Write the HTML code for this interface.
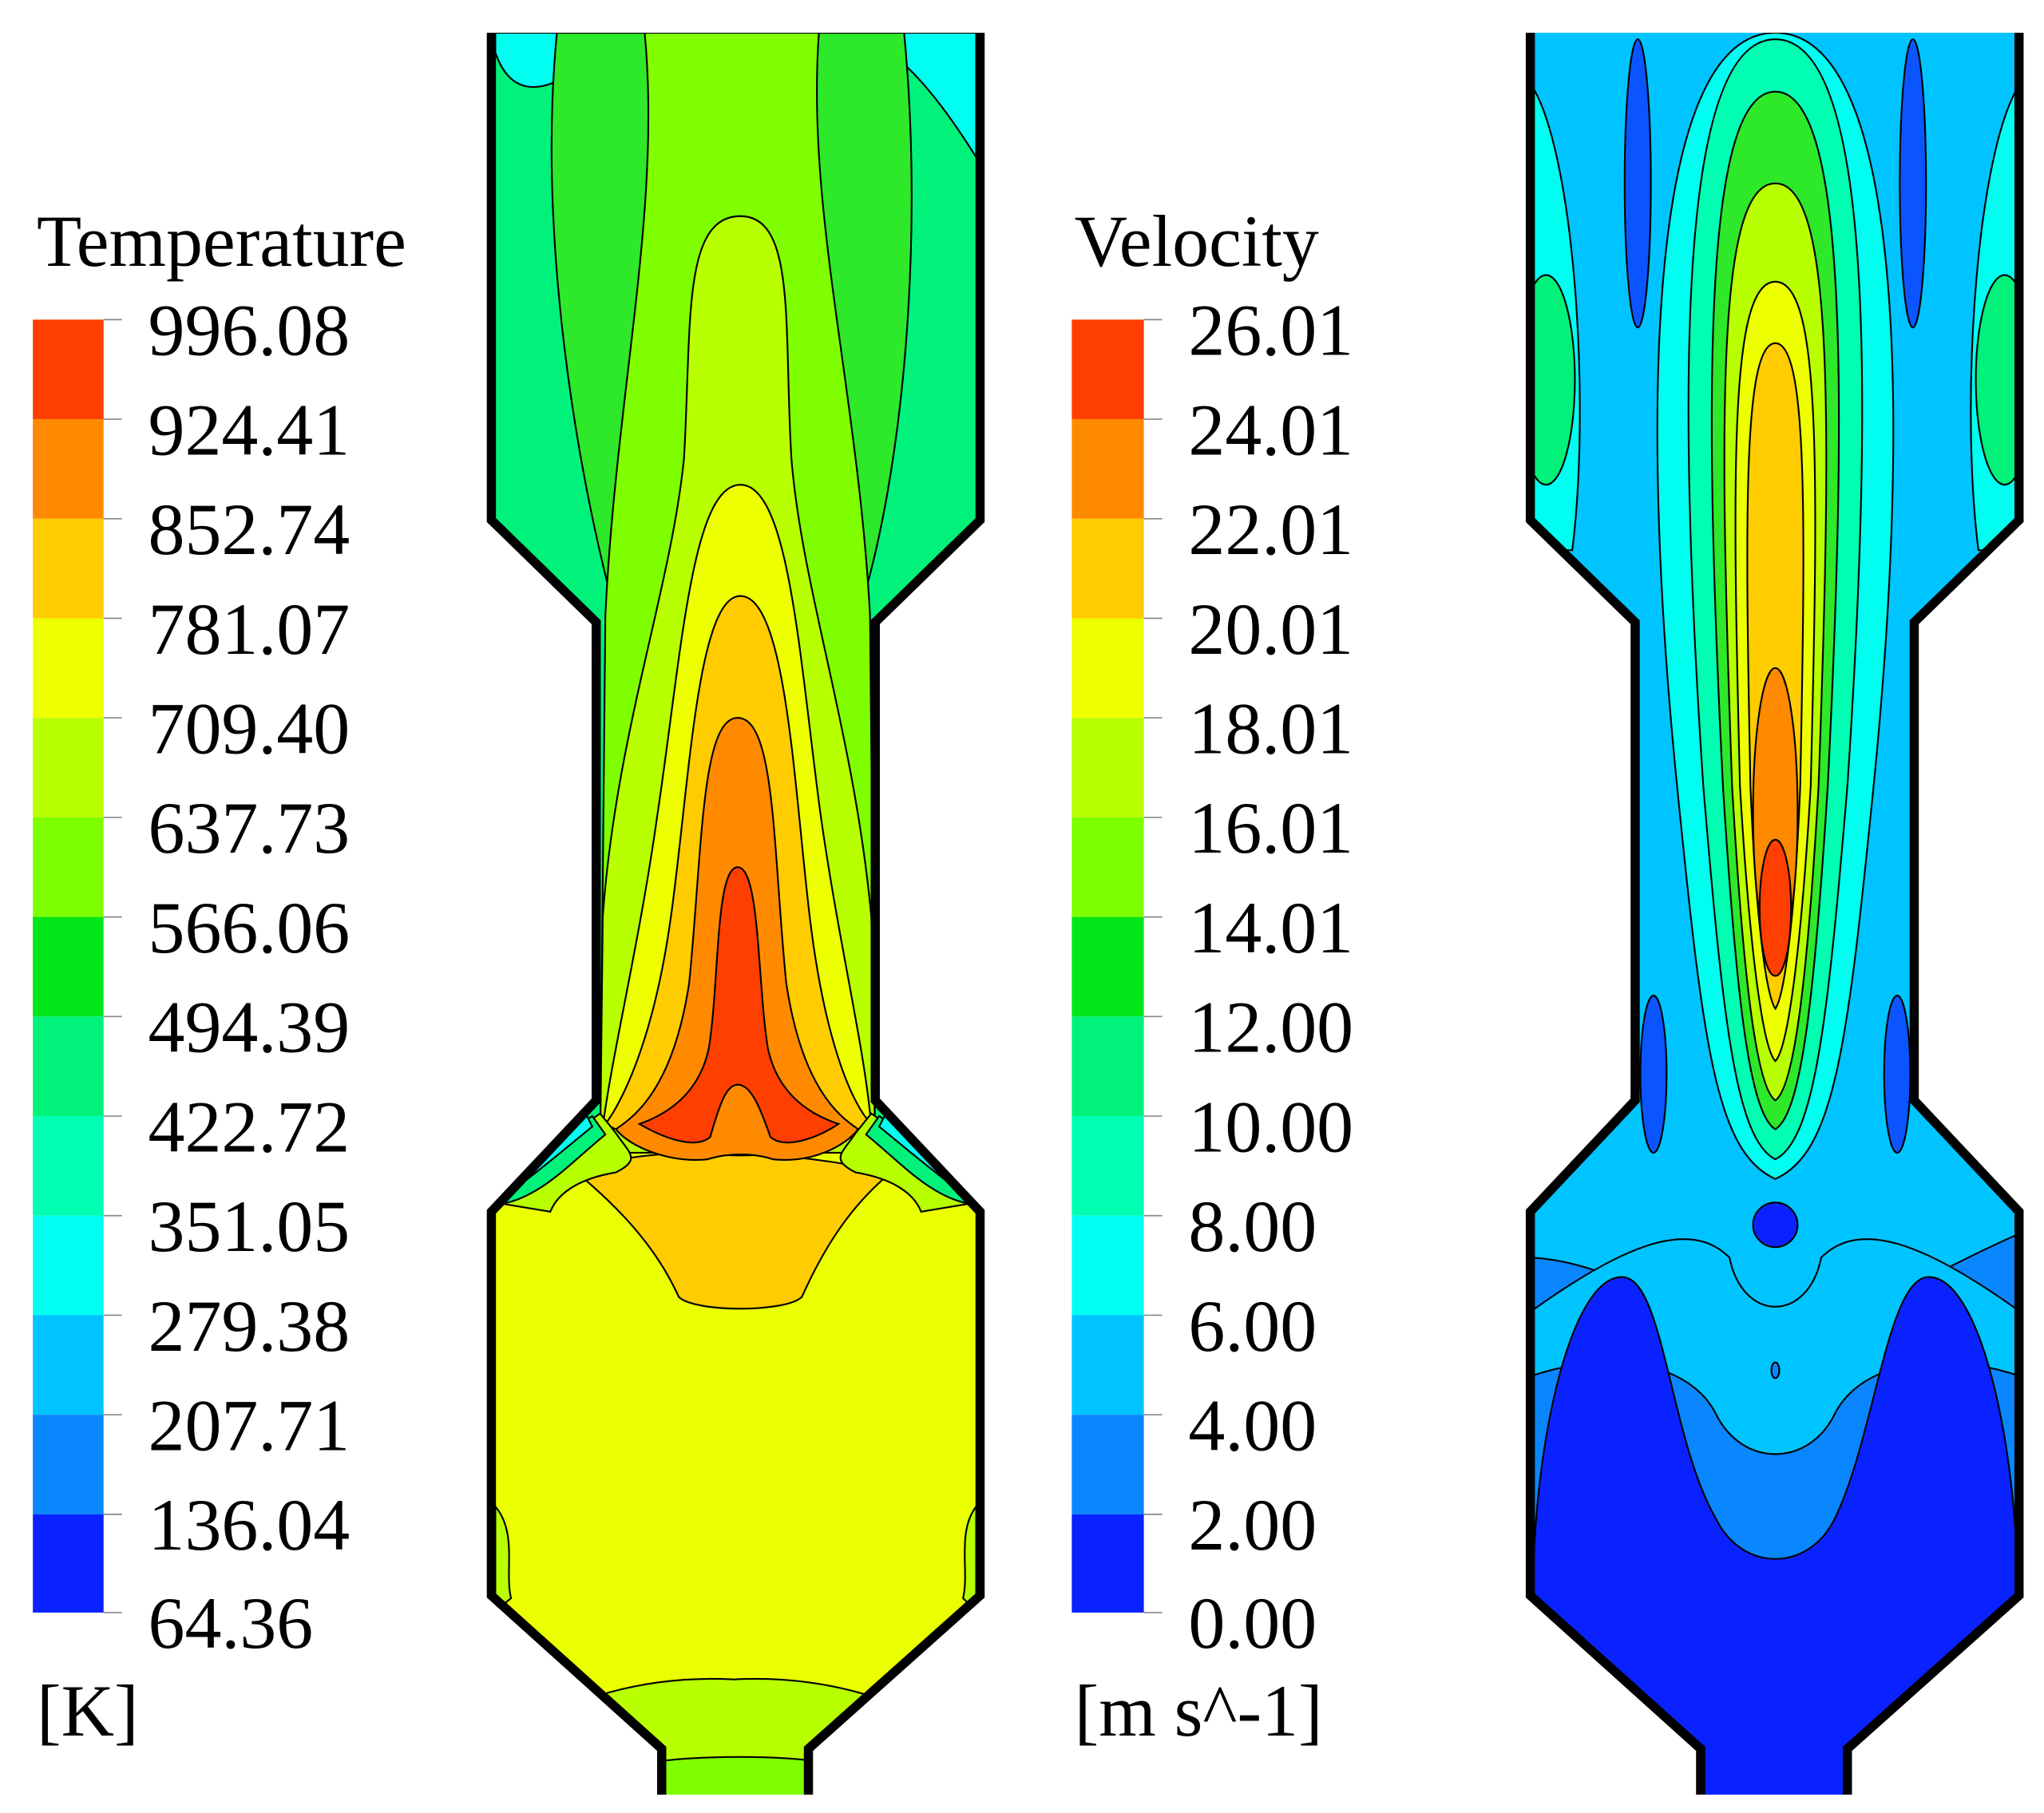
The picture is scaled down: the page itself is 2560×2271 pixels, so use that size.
<!DOCTYPE html>
<html><head><meta charset="utf-8"><style>html,body{margin:0;padding:0;background:#fff}svg{display:block}</style></head>
<body>
<svg width="2560" height="2271" viewBox="0 0 1560 1384" xmlns="http://www.w3.org/2000/svg" font-family="Liberation Serif, serif">
<defs>
<clipPath id="dT"><path d="M378,25 L745,25 L745,397 L668,475 L668,840 L745,925 L745,1218 L617,1335 L617,1370 L505,1370 L505,1335 L378,1218 L378,925 L455,840 L455,475 L378,397 Z"/></clipPath>
<clipPath id="dV"><path d="M1171,25 L1538,25 L1538,397 L1461,475 L1461,840 L1538,925 L1538,1218 L1410,1335 L1410,1370 L1298,1370 L1298,1335 L1171,1218 L1171,925 L1248,840 L1248,475 L1171,397 Z"/></clipPath>
</defs>
<rect width="1560" height="1384" fill="#fff"/>

<text x="28" y="203" font-size="56">Temperature</text>
<g>
<rect x="25" y="244" width="54" height="76" fill="#ff3f00"/>
<rect x="25" y="320" width="54" height="76" fill="#ff8a00"/>
<rect x="25" y="396" width="54" height="76" fill="#ffcc00"/>
<rect x="25" y="472" width="54" height="76" fill="#eeff00"/>
<rect x="25" y="548" width="54" height="76" fill="#b8ff00"/>
<rect x="25" y="624" width="54" height="76" fill="#7dff00"/>
<rect x="25" y="700" width="54" height="76" fill="#00e619"/>
<rect x="25" y="776" width="54" height="76" fill="#00f27a"/>
<rect x="25" y="852" width="54" height="76" fill="#00ffb2"/>
<rect x="25" y="928" width="54" height="76" fill="#00fff0"/>
<rect x="25" y="1004" width="54" height="76" fill="#00c4ff"/>
<rect x="25" y="1080" width="54" height="76" fill="#0a86ff"/>
<rect x="25" y="1156" width="54" height="75" fill="#0a22ff"/>
</g>
<g stroke="#888" stroke-width="1">
<line x1="79" y1="244" x2="93" y2="244"/><line x1="79" y1="320" x2="93" y2="320"/><line x1="79" y1="396" x2="93" y2="396"/><line x1="79" y1="472" x2="93" y2="472"/><line x1="79" y1="548" x2="93" y2="548"/><line x1="79" y1="624" x2="93" y2="624"/><line x1="79" y1="700" x2="93" y2="700"/><line x1="79" y1="776" x2="93" y2="776"/><line x1="79" y1="852" x2="93" y2="852"/><line x1="79" y1="928" x2="93" y2="928"/><line x1="79" y1="1004" x2="93" y2="1004"/><line x1="79" y1="1080" x2="93" y2="1080"/><line x1="79" y1="1156" x2="93" y2="1156"/><line x1="79" y1="1231" x2="93" y2="1231"/>
<line x1="873" y1="244" x2="887" y2="244"/><line x1="873" y1="320" x2="887" y2="320"/><line x1="873" y1="396" x2="887" y2="396"/><line x1="873" y1="472" x2="887" y2="472"/><line x1="873" y1="548" x2="887" y2="548"/><line x1="873" y1="624" x2="887" y2="624"/><line x1="873" y1="700" x2="887" y2="700"/><line x1="873" y1="776" x2="887" y2="776"/><line x1="873" y1="852" x2="887" y2="852"/><line x1="873" y1="928" x2="887" y2="928"/><line x1="873" y1="1004" x2="887" y2="1004"/><line x1="873" y1="1080" x2="887" y2="1080"/><line x1="873" y1="1156" x2="887" y2="1156"/><line x1="873" y1="1231" x2="887" y2="1231"/>
</g>
<g font-size="56">
<text x="113" y="271">996.08</text><text x="113" y="347">924.41</text><text x="113" y="423">852.74</text><text x="113" y="499">781.07</text><text x="113" y="575">709.40</text><text x="113" y="651">637.73</text><text x="113" y="727">566.06</text><text x="113" y="803">494.39</text><text x="113" y="879">422.72</text><text x="113" y="955">351.05</text><text x="113" y="1031">279.38</text><text x="113" y="1107">207.71</text><text x="113" y="1183">136.04</text><text x="113" y="1258">64.36</text>
<text x="28" y="1325">[K]</text>
<text x="820" y="203">Velocity</text>
<text x="907" y="271">26.01</text><text x="907" y="347">24.01</text><text x="907" y="423">22.01</text><text x="907" y="499">20.01</text><text x="907" y="575">18.01</text><text x="907" y="651">16.01</text><text x="907" y="727">14.01</text><text x="907" y="803">12.00</text><text x="907" y="879">10.00</text><text x="907" y="955">8.00</text><text x="907" y="1031">6.00</text><text x="907" y="1107">4.00</text><text x="907" y="1183">2.00</text><text x="907" y="1258">0.00</text>
<text x="820" y="1325">[m s^-1]</text>
</g>
<g>
<rect x="818" y="244" width="55" height="76" fill="#ff3f00"/>
<rect x="818" y="320" width="55" height="76" fill="#ff8a00"/>
<rect x="818" y="396" width="55" height="76" fill="#ffcc00"/>
<rect x="818" y="472" width="55" height="76" fill="#eeff00"/>
<rect x="818" y="548" width="55" height="76" fill="#b8ff00"/>
<rect x="818" y="624" width="55" height="76" fill="#7dff00"/>
<rect x="818" y="700" width="55" height="76" fill="#00e619"/>
<rect x="818" y="776" width="55" height="76" fill="#00f27a"/>
<rect x="818" y="852" width="55" height="76" fill="#00ffb2"/>
<rect x="818" y="928" width="55" height="76" fill="#00fff0"/>
<rect x="818" y="1004" width="55" height="76" fill="#00c4ff"/>
<rect x="818" y="1080" width="55" height="76" fill="#0a86ff"/>
<rect x="818" y="1156" width="55" height="75" fill="#0a22ff"/>
</g>

<g clip-path="url(#dT)" stroke="#000" stroke-width="1.3">
<rect x="370" y="20" width="390" height="1360" fill="#eaff00" stroke="none"/>
<rect x="370" y="20" width="390" height="860" fill="#00f27a" stroke="none"/>
<path d="M378,40 C395,90 440,60 468,25 L378,25Z" fill="#00fff0"/>
<path d="M745,120 C720,80 690,40 655,25 L745,25Z" fill="#00fff0"/>
<path d="M425,25 C410,180 440,360 470,470 L470,880 L655,880 L655,470 C690,360 705,180 690,25 Z" fill="#2ee82a"/>
<path d="M492,25 C505,160 470,300 462,470 L458,880 L668,880 L664,470 C655,300 615,160 625,25 Z" fill="#80ff00"/>
<path d="M565,165 C520,165 528,250 522,350 C512,450 470,560 460,700 L458,880 L668,880 L665,700 C652,560 612,450 604,350 C598,250 608,165 565,165 Z" fill="#b8ff00"/>
<path d="M565,370 C528,370 520,500 502,620 C488,720 468,800 460,860 L665,860 C660,800 640,720 626,620 C610,500 602,370 565,370Z" fill="#eeff00"/>
<path d="M440,895 C470,880 560,870 680,895 C650,920 630,950 612,990 C600,1002 530,1002 518,990 C500,950 470,920 440,895Z" fill="#ffcc00"/>
<path d="M565,455 C532,455 526,600 512,700 C498,800 472,845 462,858 C520,890 610,890 665,858 C652,845 630,800 618,700 C606,600 600,455 565,455Z" fill="#ffcc00"/>
<path d="M563,548 C535,548 536,650 526,750 C514,830 485,852 470,862 C480,875 510,888 540,885 C555,880 575,880 590,885 C620,888 645,875 655,862 C640,852 612,830 600,750 C590,650 592,548 563,548Z" fill="#ff8a00"/>
<path d="M563,662 C546,662 549,750 541,800 C533,838 505,852 488,858 C505,868 530,878 542,868 C550,840 555,828 563,828 C573,828 580,845 588,868 C600,878 625,868 640,858 C622,852 594,838 586,800 C578,750 580,662 563,662Z" fill="#ff3f00"/>
<path d="M378,918 C400,895 430,870 458,850 L470,865 C480,880 490,885 470,895 C440,900 425,912 420,925 Z" fill="#b8ff00"/>
<path d="M378,912 C398,892 425,870 452,852 L462,866 C445,880 430,895 415,905 C400,915 390,918 378,920Z" fill="#00f27a"/>
<path d="M378,905 C395,890 420,870 448,852 L452,860 C430,878 410,895 392,908Z" fill="#00fff0"/>
<path d="M745,918 C723,895 693,870 665,850 L653,865 C643,880 633,885 653,895 C683,900 698,912 703,925 Z" fill="#b8ff00"/>
<path d="M745,912 C725,892 698,870 671,852 L661,866 C678,880 693,895 708,905 C723,915 733,918 745,920Z" fill="#00f27a"/>
<path d="M745,905 C728,890 703,870 675,852 L671,860 C693,878 713,895 731,908Z" fill="#00fff0"/>
<path d="M378,1150 C395,1170 385,1200 390,1220 L378,1230Z" fill="#b8ff00"/>
<path d="M745,1150 C730,1170 740,1200 735,1220 L745,1230Z" fill="#b8ff00"/>
<path d="M440,1300 C480,1285 520,1280 560,1282 C600,1280 640,1285 680,1300 L680,1380 L440,1380Z" fill="#b8ff00"/>
<path d="M500,1345 C530,1340 600,1340 625,1345 L625,1380 L500,1380Z" fill="#80ff00"/>
</g>
<path d="M375,25 L375,397 L455,475 L455,840 L375,925 L375,1218 L505,1335 L505,1370 M748,25 L748,397 L668,475 L668,840 L748,925 L748,1218 L617,1335 L617,1370" fill="none" stroke="#000" stroke-width="7"/>

<g clip-path="url(#dV)" stroke="#000" stroke-width="1.3">
<rect x="1160" y="20" width="390" height="1360" fill="#0a86ff" stroke="none"/>
<path d="M1165,20 L1545,20 L1545,940 C1500,960 1440,990 1420,1010 C1390,1050 1330,1050 1300,1010 C1270,990 1210,960 1165,960Z" fill="#00c4ff"/>
<path d="M1165,60 C1200,100 1215,300 1200,420 L1165,420Z" fill="#00fff0"/>
<path d="M1545,60 C1510,100 1495,300 1510,420 L1545,420Z" fill="#00fff0"/>
<ellipse cx="1180" cy="290" rx="22" ry="80" fill="#00f27a"/>
<ellipse cx="1530" cy="290" rx="22" ry="80" fill="#00f27a"/>
<ellipse cx="1250" cy="140" rx="10" ry="110" fill="#0a55ff"/>
<ellipse cx="1460" cy="140" rx="10" ry="110" fill="#0a55ff"/>
<ellipse cx="1300" cy="600" rx="9" ry="100" fill="#0a55ff"/>
<ellipse cx="1410" cy="600" rx="9" ry="100" fill="#0a55ff"/>
<ellipse cx="1262" cy="820" rx="10" ry="60" fill="#0a55ff"/>
<ellipse cx="1448" cy="820" rx="10" ry="60" fill="#0a55ff"/>
<path d="M1355,25 C1260,25 1250,300 1280,600 C1300,800 1310,880 1355,900 C1400,880 1410,800 1430,600 C1460,300 1450,25 1355,25Z" fill="#00fff0"/>
<path d="M1355,30 C1280,30 1280,300 1300,600 C1315,780 1325,870 1355,885 C1385,870 1395,780 1410,600 C1430,300 1430,30 1355,30Z" fill="#00ffb2"/>
<path d="M1355,70 C1300,70 1300,300 1315,600 C1325,760 1335,850 1355,862 C1375,850 1385,760 1395,600 C1410,300 1410,70 1355,70Z" fill="#2ee82a"/>
<path d="M1355,140 C1310,140 1312,320 1322,600 C1330,740 1340,830 1355,840 C1370,830 1380,740 1388,600 C1398,320 1400,140 1355,140Z" fill="#b8ff00"/>
<path d="M1355,215 C1320,215 1322,360 1328,600 C1335,720 1345,800 1355,810 C1365,800 1375,720 1382,600 C1388,360 1390,215 1355,215Z" fill="#eeff00"/>
<path d="M1355,262 C1330,262 1332,400 1336,600 C1340,700 1348,760 1355,770 C1362,760 1370,700 1374,600 C1378,400 1380,262 1355,262Z" fill="#ffcc00"/>
<ellipse cx="1355" cy="620" rx="17" ry="110" fill="#ff8a00"/>
<ellipse cx="1355" cy="693" rx="12" ry="52" fill="#ff3f00"/>
<path d="M1170,1000 C1240,950 1290,930 1320,960 C1330,1010 1380,1010 1390,960 C1420,930 1470,950 1540,1000 L1540,1050 C1480,1030 1420,1040 1400,1080 C1380,1120 1330,1120 1310,1080 C1290,1040 1230,1030 1170,1050Z" fill="#00c4ff"/>
<path d="M1170,1220 C1170,1100 1200,970 1240,975 C1270,980 1275,1100 1310,1160 C1330,1200 1380,1200 1400,1160 C1430,1100 1440,980 1470,975 C1510,970 1540,1100 1540,1220 L1540,1384 L1170,1384Z" fill="#0a22ff"/>
<circle cx="1355" cy="935" r="17" fill="#0a22ff"/>
<ellipse cx="1355" cy="1046" rx="3" ry="6" fill="#0a86ff"/>
</g>
<path d="M1168,25 L1168,397 L1248,475 L1248,840 L1168,925 L1168,1218 L1298,1335 L1298,1370 M1541,25 L1541,397 L1461,475 L1461,840 L1541,925 L1541,1218 L1410,1335 L1410,1370" fill="none" stroke="#000" stroke-width="7"/>
</svg>
</body></html>
